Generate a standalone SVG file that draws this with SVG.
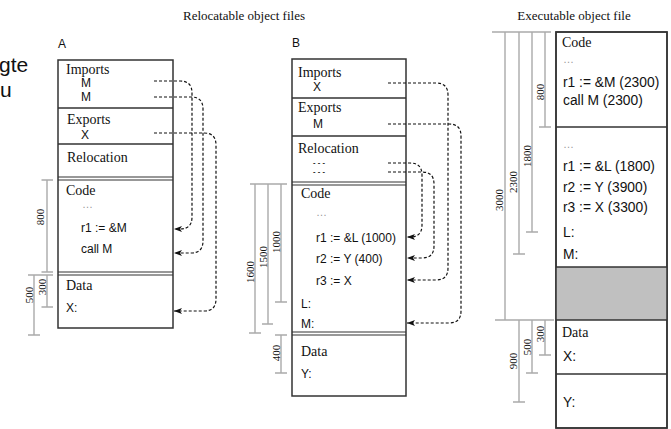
<svg xmlns="http://www.w3.org/2000/svg" width="671" height="429" viewBox="0 0 671 429">
  <defs>
    <marker id="arrow" viewBox="0 0 8 6" refX="8" refY="3" markerWidth="8" markerHeight="6" markerUnits="userSpaceOnUse" orient="auto">
      <path d="M0,0 L8,3 L0,6 L2,3 z" fill="#111"/>
    </marker>
  </defs>
  <style>
    .box { fill: #fff; stroke: #333; stroke-width: 1.5; }
    .div { stroke: #333; stroke-width: 1.5; fill: none; }
    .dbl { stroke: #333; stroke-width: 1.1; fill: none; }
    .hdr { font-family: "Liberation Serif", "Times New Roman", serif; font-size: 14px; fill: #111; }
    .title { font-family: "Liberation Serif", "Times New Roman", serif; font-size: 13px; fill: #111; }
    .code { font-family: "Liberation Sans", Arial, sans-serif; font-size: 12px; fill: #111; }
    .code2 { font-family: "Liberation Sans", Arial, sans-serif; font-size: 13.8px; fill: #111; }
    .reloc { font-family: "Liberation Sans", Arial, sans-serif; font-size: 7.5px; font-weight: bold; letter-spacing: 2.2px; fill: #222; }
    .dots { font-family: "Liberation Sans", Arial, sans-serif; font-size: 11px; fill: #999; }
    .lbl { font-family: "Liberation Sans", Arial, sans-serif; font-size: 12px; fill: #111; }
    .frag { font-family: "Liberation Sans", Arial, sans-serif; font-size: 21px; fill: #111; }
    .dim { stroke: #aaa; stroke-width: 1.4; fill: none; }
    .dimt { font-family: "Liberation Serif", "Times New Roman", serif; font-size: 11px; fill: #111; text-anchor: middle; }
    .link { stroke: #111; stroke-width: 1.2; stroke-dasharray: 3 2; fill: none; marker-end: url(#arrow); }
    .gap { fill: #c0c0c0; stroke: none; }
  </style>

  <!-- stray text fragments at the left edge -->
  <text class="frag" x="-1" y="72">gte</text>
  <text class="frag" x="0" y="97">u</text>

  <!-- column titles -->
  <text class="title" x="244" y="20" text-anchor="middle">Relocatable object files</text>
  <text class="title" x="574" y="20" text-anchor="middle">Executable object file</text>

  <!-- object file A -->
  <g id="fileA">
    <text class="lbl" x="58" y="48">A</text>
    <rect class="box" x="58" y="60" width="115" height="268"/>
    <line class="div" x1="58" y1="108" x2="173" y2="108"/>
    <line class="div" x1="58" y1="144" x2="173" y2="144"/>
    <line class="dbl" x1="58" y1="177" x2="173" y2="177"/>
    <line class="dbl" x1="58" y1="180" x2="173" y2="180"/>
    <line class="dbl" x1="58" y1="272" x2="173" y2="272"/>
    <line class="dbl" x1="58" y1="275" x2="173" y2="275"/>
    <text class="hdr" x="66" y="74">Imports</text>
    <text class="code" x="81" y="87">M</text>
    <text class="code" x="81" y="101">M</text>
    <text class="hdr" x="67" y="124">Exports</text>
    <text class="code" x="81" y="139">X</text>
    <text class="hdr" x="67" y="162">Relocation</text>
    <text class="hdr" x="66" y="195">Code</text>
    <text class="dots" x="82" y="208">…</text>
    <text class="code" x="81" y="232">r1 := &amp;M</text>
    <text class="code" x="81" y="253">call M</text>
    <text class="hdr" x="66" y="290">Data</text>
    <text class="code" x="66" y="312">X:</text>
  </g>

  <!-- object file B -->
  <g id="fileB">
    <text class="lbl" x="292" y="47">B</text>
    <rect class="box" x="292" y="59" width="114" height="337"/>
    <line class="div" x1="292" y1="98" x2="406" y2="98"/>
    <line class="div" x1="292" y1="136" x2="406" y2="136"/>
    <line class="dbl" x1="292" y1="182" x2="406" y2="182"/>
    <line class="dbl" x1="292" y1="185" x2="406" y2="185"/>
    <line class="dbl" x1="292" y1="332" x2="406" y2="332"/>
    <line class="dbl" x1="292" y1="335" x2="406" y2="335"/>
    <text class="hdr" x="298" y="77">Imports</text>
    <text class="code" x="313" y="91">X</text>
    <text class="hdr" x="298" y="112">Exports</text>
    <text class="code" x="313" y="128">M</text>
    <text class="hdr" x="298" y="153">Relocation</text>
    <text class="reloc" x="313" y="165">---</text>
    <text class="reloc" x="313" y="174">---</text>
    <text class="hdr" x="301" y="198">Code</text>
    <text class="dots" x="316" y="216">…</text>
    <text class="code" x="316" y="242">r1 := &amp;L (1000)</text>
    <text class="code" x="316" y="263">r2 := Y (400)</text>
    <text class="code" x="316" y="285">r3 := X</text>
    <text class="code" x="301" y="308">L:</text>
    <text class="code" x="301" y="328">M:</text>
    <text class="hdr" x="301" y="356">Data</text>
    <text class="code" x="301" y="378">Y:</text>
  </g>

  <!-- linked executable -->
  <g id="executable">
    <rect class="box" x="556" y="32" width="111" height="396"/>
    <rect class="gap" x="556" y="267" width="111" height="53"/>
    <line class="div" x1="556" y1="127" x2="667" y2="127"/>
    <line class="div" x1="556" y1="267" x2="667" y2="267"/>
    <line class="div" x1="556" y1="320" x2="667" y2="320"/>
    <line class="div" x1="556" y1="374" x2="667" y2="374"/>
    <rect x="556" y="32" width="111" height="396" fill="none" stroke="#333" stroke-width="1.5"/>
    <text class="hdr" x="562" y="47">Code</text>
    <text class="dots" x="563" y="63">…</text>
    <text class="code2" x="563" y="87">r1 := &amp;M (2300)</text>
    <text class="code2" x="563" y="105">call M (2300)</text>
    <text class="dots" x="563" y="148">…</text>
    <text class="code2" x="563" y="171">r1 := &amp;L (1800)</text>
    <text class="code2" x="563" y="192">r2 := Y (3900)</text>
    <text class="code2" x="563" y="212">r3 := X (3300)</text>
    <text class="code2" x="563" y="237">L:</text>
    <text class="code2" x="563" y="259">M:</text>
    <text class="hdr" x="562" y="337">Data</text>
    <text class="code2" x="563" y="361">X:</text>
    <text class="code2" x="563" y="407">Y:</text>
  </g>

  <!-- size rulers -->
  <g id="rulers">
    <!-- A -->
    <path class="dim" d="M41.5,180 H53 M47,180 V272 M41.5,272 H53"/>
    <path class="dim" d="M28,275 H53 M47,275 V307 M41.5,307 H53 M34,275 V335 M28,335 H40"/>
    <text class="dimt" transform="translate(44,217) rotate(-90)">800</text>
    <text class="dimt" transform="translate(46,287) rotate(-90)">300</text>
    <text class="dimt" transform="translate(33,295) rotate(-90)">500</text>
    <!-- B -->
    <path class="dim" d="M250,184 H287 M255,184 V333 M249,333 H261 M268,184 V324 M262,324 H273 M281,184 V302 M275,302 H287"/>
    <path class="dim" d="M275,335 H287 M281,335 V373 M275,373 H287"/>
    <text class="dimt" transform="translate(254,272) rotate(-90)">1600</text>
    <text class="dimt" transform="translate(267,257) rotate(-90)">1500</text>
    <text class="dimt" transform="translate(280,242) rotate(-90)">1000</text>
    <text class="dimt" transform="translate(280,353) rotate(-90)">400</text>
    <!-- executable -->
    <path class="dim" d="M492,32 H551 M505,32 V320 M519,32 V254 M513,254 H525 M532,32 V232 M526,232 H538 M545,32 V127 M539,127 H551"/>
    <path class="dim" d="M495,320 H554 M519,320 V402 M513,402 H525 M532,320 V373 M526,373 H538 M545,320 V355 M539,355 H551"/>
    <text class="dimt" transform="translate(543.5,92) rotate(-90)">800</text>
    <text class="dimt" transform="translate(530.5,156) rotate(-90)">1800</text>
    <text class="dimt" transform="translate(517,182) rotate(-90)">2300</text>
    <text class="dimt" transform="translate(503,200) rotate(-90)">3000</text>
    <text class="dimt" transform="translate(543.5,334) rotate(-90)">300</text>
    <text class="dimt" transform="translate(530.5,347) rotate(-90)">500</text>
    <text class="dimt" transform="translate(517,361) rotate(-90)">900</text>
  </g>

  <!-- reference links -->
  <g id="connectors">
    <path class="link" d="M154,81 H180 Q192,81 192,93 V217 Q192,229 180,229 H174"/>
    <path class="link" d="M154,97 H191 Q203,97 203,109 V241 Q203,253 191,253 H174"/>
    <path class="link" d="M154,133 H204 Q216,133 216,145 V299 Q216,311 204,311 H174"/>
    <path class="link" d="M388,163 H410 Q422,163 422,175 V225 Q422,237 410,237 H407"/>
    <path class="link" d="M388,172 H422 Q434,172 434,184 V246 Q434,258 422,258 H407"/>
    <path class="link" d="M388,83 H436 Q448,83 448,95 V268 Q448,280 436,280 H407"/>
    <path class="link" d="M388,124 H449 Q461,124 461,136 V311 Q461,323 449,323 H407"/>
  </g>
</svg>
